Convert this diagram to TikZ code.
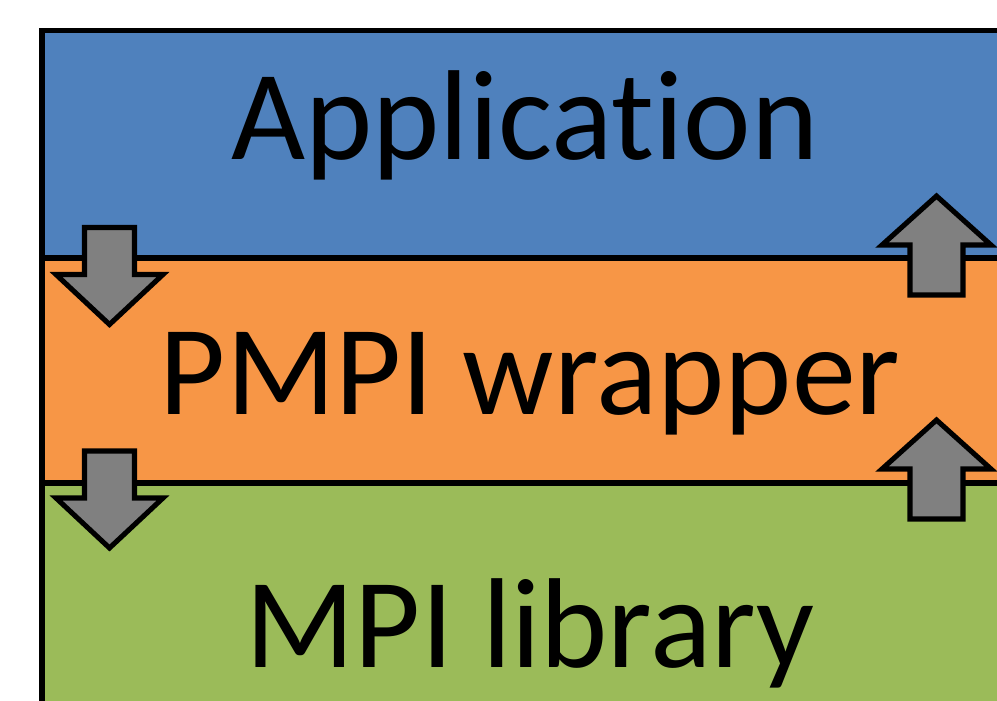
\documentclass[tikz,border=0pt]{standalone}
\usepackage{fontspec}
\setmainfont{Carlito}[Ligatures=NoCommon]

\begin{document}
\begin{tikzpicture}[
    x=0.025cm,
    y=-0.025cm,
    layer/.style={draw=black, line width=3.6pt},
    blockarrow/.style={draw=black, fill=arrowgrey, line width=3.6pt, miter limit=10},
    layertext/.style={anchor=base, inner sep=0pt, font=\fontsize{91}{100}\selectfont}
]

\definecolor{appblue}{RGB}{79,129,189}
\definecolor{wrapperorange}{RGB}{247,150,70}
\definecolor{libgreen}{RGB}{155,187,89}
\definecolor{arrowgrey}{RGB}{128,128,128}

\path[use as bounding box] (0,0) rectangle (997,701);
\clip (0,0) rectangle (997,701);

% Three stacked layers, cut off at the right and bottom edge.
\path[layer, fill=libgreen] (42,483) rectangle (1030,750);
\path[layer, fill=wrapperorange] (42,258) rectangle (1030,483);
\path[layer, fill=appblue] (42,30.5) rectangle (1030,258);

\node[layertext] (application) at (525,160) {Application};
\node[layertext] (wrapper) at (530,414) {PMPI wrapper};
\node[layertext] (library) at (530,667) {MPI library};

% Calls go down on the left.
\foreach \y in {227.5,451} {
    \draw[blockarrow]
        (84.5,\y) -- (134.5,\y) -- (134.5,\y+47) -- (163,\y+47)
        -- (109.5,\y+97) -- (56,\y+47) -- (84.5,\y+47) -- cycle;
}

% Returns come back up on the right.
\foreach \y in {295,519} {
    \draw[blockarrow]
        (910,\y) -- (963,\y) -- (963,\y-50) -- (991,\y-50)
        -- (936.5,\y-99) -- (882,\y-50) -- (910,\y-50) -- cycle;
}

\end{tikzpicture}
\end{document}
